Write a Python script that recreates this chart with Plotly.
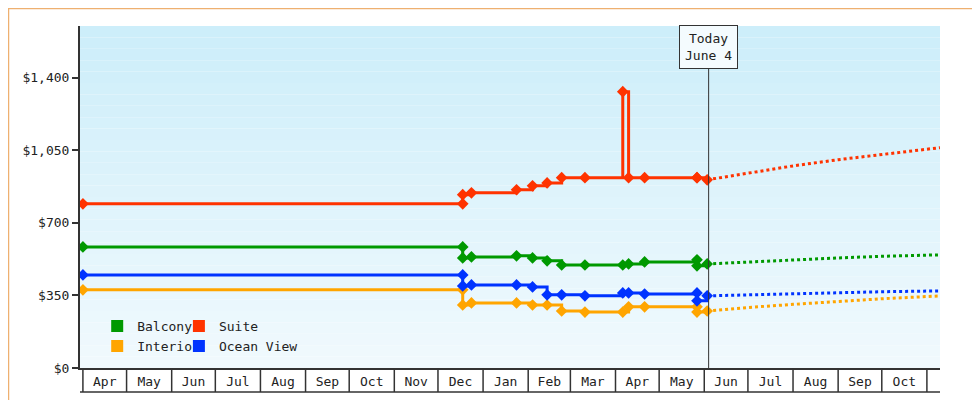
import plotly.graph_objects as go

# cabin price history (stepped) and forecast
dates = ['2023-04-01', '2023-12-18', '2023-12-18', '2023-12-24', '2024-01-24', '2024-02-04',
         '2024-02-14', '2024-02-24', '2024-03-11', '2024-04-06', '2024-04-10', '2024-04-21',
         '2024-05-27', '2024-05-27', '2024-06-03']
balcony = [584, 584, 531, 536, 541, 531, 517, 497, 497, 497, 502, 512, 522, 493, 502]
suite = [792, 792, 836, 845, 860, 879, 893, 918, 918, 1333, 918, 918, 918, 918, 908]
ocean = [449, 449, 396, 401, 401, 391, 353, 353, 348, 362, 362, 357, 362, 324, 348]
interior = [377, 377, 304, 314, 314, 304, 304, 275, 270, 270, 295, 295, 295, 270, 275]

fc_dates = ['2024-06-03', '2024-07-01', '2024-08-01', '2024-09-01', '2024-10-01', '2024-11-10']
fc_balcony = [502, 512, 522, 531, 539, 546]
fc_suite = [908, 940, 975, 1005, 1030, 1063]
fc_ocean = [348, 353, 358, 363, 368, 372]
fc_interior = [275, 292, 307, 321, 334, 348]

months = ['2023-04-01', '2023-05-01', '2023-06-01', '2023-07-01', '2023-08-01', '2023-09-01',
          '2023-10-01', '2023-11-01', '2023-12-01', '2024-01-01', '2024-02-01', '2024-03-01',
          '2024-04-01', '2024-05-01', '2024-06-01', '2024-07-01', '2024-08-01', '2024-09-01',
          '2024-10-01', '2024-11-01']
today = '2024-06-04'
yticks = [0, 350, 700, 1050, 1400]
ylabels = ['$0', '$350', '$700', '$1,050', '$1,400']

series = [('Balcony', balcony, fc_balcony, '#009900', 'legend'),
          ('Suite', suite, fc_suite, '#ff3300', 'legend2'),
          ('Interior', interior, fc_interior, '#ffa500', 'legend'),
          ('Ocean View', ocean, fc_ocean, '#0033ff', 'legend2')]

fig = go.Figure()
for name, vals, fc, col, lg in series:
    fig.add_trace(go.Scatter(x=dates, y=vals, mode='lines+markers', line_shape='hv', showlegend=False,
                             line=dict(color=col, width=3),
                             marker=dict(symbol='diamond', size=9, color=col)))
    fig.add_trace(go.Scatter(x=fc_dates, y=fc, mode='lines', showlegend=False,
                             line=dict(color=col, width=3, dash='dot')))
    fig.add_trace(go.Scatter(x=[None], y=[None], name=name, mode='markers', legend=lg,
                             marker=dict(symbol='square', size=12, color=col)))

shapes = []
# background gradient
n = 30
for i in range(n):
    t = i / n
    r = int(0xcd + (0xf2 - 0xcd) * t)
    g = int(0xee + (0xfa - 0xee) * t)
    b = int(0xfa + (0xfe - 0xfa) * t)
    shapes.append(dict(type='rect', xref='paper', yref='paper', x0=0, x1=1,
                       y0=1 - (i + 1) / n, y1=1 - i / n, line_width=0,
                       fillcolor='rgb(%d,%d,%d)' % (r, g, b), layer='below'))
# month boxes
for m in months:
    shapes.append(dict(type='line', xref='x', yref='paper', x0=m, x1=m, y0=0, y1=-24 / 342,
                       line=dict(color='#333', width=1.5)))
shapes.append(dict(type='line', xref='paper', yref='paper', x0=0, x1=1, y0=-24 / 342, y1=-24 / 342,
                   line=dict(color='#333', width=1.5)))
# today line
shapes.append(dict(type='line', xref='x', yref='paper', x0=today, x1=today, y0=0, y1=0.88,
                   line=dict(color='#333', width=1)))
# outer frame
shapes.append(dict(type='rect', xref='paper', yref='paper', x0=-71.5 / 860, x1=1 + 47.5 / 860,
                   y0=-39.5 / 342, y1=1 + 17.5 / 342, line=dict(color='#eeb070', width=1.5)))

fig.update_layout(
    width=980, height=400, margin=dict(l=72, r=48, t=18, b=40, autoexpand=False),
    paper_bgcolor='white', plot_bgcolor='rgba(0,0,0,0)',
    font=dict(family='DejaVu Sans Mono', size=13, color='#222'),
    shapes=shapes,
    legend=dict(x=0.02, y=0.02, xanchor='left', yanchor='bottom', bgcolor='rgba(0,0,0,0)',
                tracegroupgap=0, itemwidth=30, font=dict(size=13)),
    legend2=dict(x=0.115, y=0.02, xanchor='left', yanchor='bottom', bgcolor='rgba(0,0,0,0)',
                 tracegroupgap=0, itemwidth=30, font=dict(size=13)),
    annotations=[dict(x=today, y=0.94, xref='x', yref='paper', yanchor='middle',
                      text='Today<br>June 4', showarrow=False, bgcolor='#f4fbfe',
                      bordercolor='#333', borderwidth=1, borderpad=5, font=dict(size=13))],
)
fig.update_xaxes(range=['2023-03-30', '2024-11-10'], showgrid=False, dtick='M1', tickformat='%b',
                 ticklabelmode='period', ticks='', showline=True, linecolor='#333', linewidth=2,
                 zeroline=False, automargin=False)
fig.update_yaxes(range=[0, 1650], tickvals=yticks, ticktext=ylabels, automargin=False,
                 showgrid=False, ticks='outside', ticklen=6, tickwidth=2,
                 tickcolor='#333', showline=True, linecolor='#333', linewidth=2, zeroline=False)

fig.write_html("out.html")
